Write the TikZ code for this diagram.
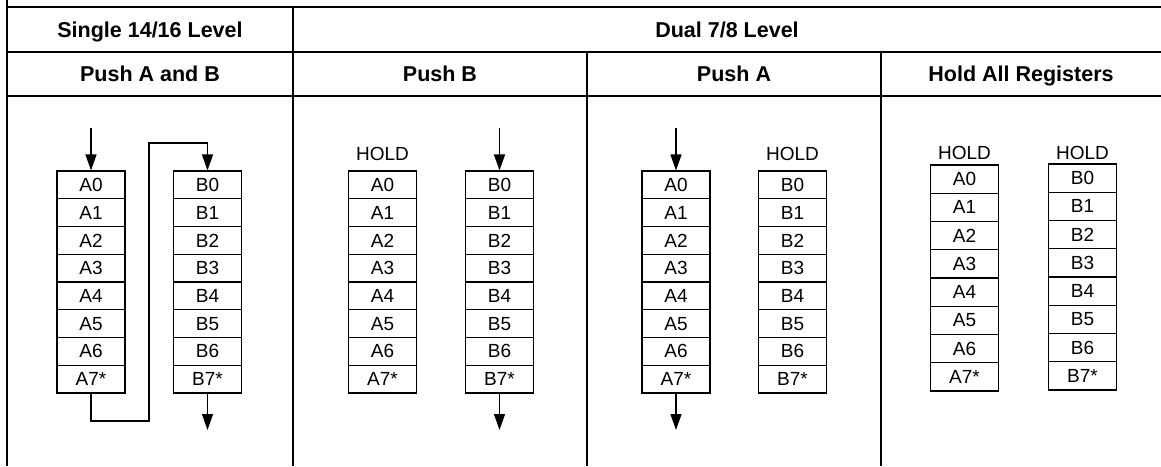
\documentclass[tikz,border=0pt]{standalone}
\usepackage{fontspec}
\setmainfont{Liberation Sans}
\usetikzlibrary{arrows.meta}

\tikzset{
	reg/.style={draw, line width=1.1pt, minimum width=68pt, minimum height=27.75pt,
		inner sep=0pt, font=\fontsize{19}{21}\selectfont},
	regtall/.style={reg, minimum height=28.25pt},
	head/.style={anchor=base, font=\bfseries\fontsize{21.5}{23}\selectfont},
	holdtag/.style={anchor=base, font=\fontsize{19}{21}\selectfont},
	flow/.style={line width=1.2pt, -{Triangle[width=11pt,length=16pt]}},
	rule/.style={line width=1.2pt},
	boldrule/.style={line width=2.6pt}
}

\begin{document}
\begin{tikzpicture}[x=1pt,y=-1pt]
		\useasboundingbox (0,0) rectangle (1161,466);
		%\draw[help lines] (0,0) grid (1161,466);
		
		% table rules
		\draw[boldrule] (7,0) -- (7,466);
		\draw[boldrule] (7,7) -- (1161,7);
		\draw[boldrule] (7,52) -- (1161,52);
		\draw[rule] (7,96) -- (1161,96);
		\draw[rule] (293,7) -- (293,466);
		\draw[rule] (587,52) -- (587,466);
		\draw[rule] (881,52) -- (881,466);
		
		\node[head] (single) at (150,37.5) {Single 14/16 Level};
		\node[head] (dual) at (727,37.5) {Dual 7/8 Level};
		\node[head] (pushab) at (150,81) {Push A and B};
		\node[head] (pushb) at (440,81) {Push B};
		\node[head] (pusha) at (734,81) {Push A};
		\node[head] (holdall) at (1021,81) {Hold All Registers};
		
		% register stacks
		\foreach \c/\xa/\xb in {s/91/207.5, b/382.5/499.5, a/676/792.5}{
			\foreach \i in {0,...,7}{
				\node[reg] (\c A\i) at (\xa,{184.875+27.75*\i}) {A\i\ifnum\i=7*\fi};
				\node[reg] (\c B\i) at (\xb,{184.875+27.75*\i}) {B\i\ifnum\i=7*\fi};
			}
		}
		\foreach \i in {0,...,7}{
			\node[regtall] (hA\i) at (964.5,{179.125+28.25*\i}) {A\i\ifnum\i=7*\fi};
			\node[regtall] (hB\i) at (1082.5,{178.125+28.25*\i}) {B\i\ifnum\i=7*\fi};
		}
		
		\node[holdtag] (bHold) at (382.5,160) {HOLD};
		\node[holdtag] (aHold) at (792.5,160) {HOLD};
		\node[holdtag] (hHoldA) at (964.5,159) {HOLD};
		\node[holdtag] (hHoldB) at (1082.5,159) {HOLD};
		
		\coordinate (sIn) at (91,128);
		\coordinate (sLow) at (149,421);
		\coordinate (sHigh) at (149,143);
		\coordinate (sOut) at (207.5,430);
		\coordinate (bIn) at (499.5,128);
		\coordinate (bOut) at (499.5,430);
		\coordinate (aIn) at (676,128);
		\coordinate (aOut) at (676,430);
		
		\draw[flow] (sIn) -- (sA0.north);
		\draw[flow] (sA7.south) |- (sLow) -- (sHigh) -| (sB0.north);
		\draw[flow] (sB7.south) -- (sOut);
		\draw[flow] (bIn) -- (bB0.north);
		\draw[flow] (bB7.south) -- (bOut);
		\draw[flow] (aIn) -- (aA0.north);
		\draw[flow] (aA7.south) -- (aOut);
\end{tikzpicture}
\end{document}
